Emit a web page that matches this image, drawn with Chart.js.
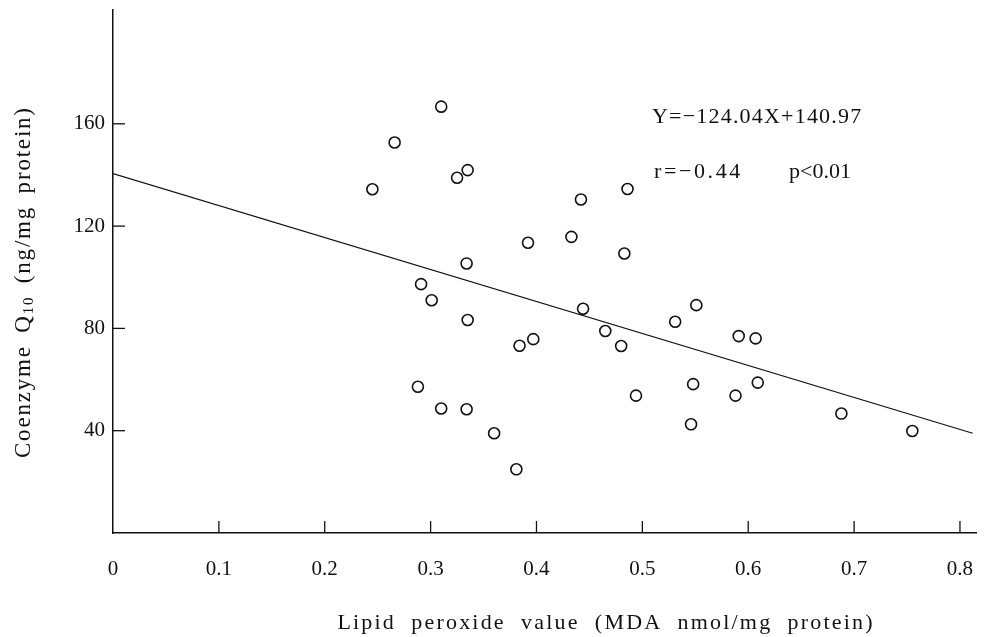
<!DOCTYPE html>
<html>
<head>
<meta charset="utf-8">
<script src="https://cdn.jsdelivr.net/npm/chart.js@4/dist/chart.umd.min.js"></script>
<style>
html,body{margin:0;padding:0;background:#fff;}
#wrap{width:984px;height:637px;position:relative;}
</style>
</head>
<body>
<div id="wrap"><canvas id="c" width="984" height="637"></canvas></div>
<script>
// ---- data ----
const lipidX = [0.310,0.266,0.335,0.325,0.245,0.392,0.334,0.291,0.301,0.335,0.384,0.397,0.288,0.310,0.334,0.360,0.381,
                0.486,0.442,0.433,0.483,0.444,0.465,0.480,0.531,0.551,0.591,0.607,0.494,0.548,0.546,0.588,0.609,0.688,0.755];
const coq10Y = [166.7,152.7,141.9,138.9,134.4,113.5,105.4,97.3,91.0,83.3,73.2,75.8,57.2,48.7,48.4,39.0,24.9,
                134.5,130.4,115.8,109.3,87.7,79.0,73.1,82.6,89.1,77.0,76.1,53.7,58.2,42.5,53.7,58.8,46.7,39.9];
const lineX = [0, 0.812];
const lineY = [140.5, 39.0];
const xTicks = [0,0.1,0.2,0.3,0.4,0.5,0.6,0.7,0.8];
const xTickLabels = ['0','0.1','0.2','0.3','0.4','0.5','0.6','0.7','0.8'];
const yTicks = [40,80,120,160];
const yTickLabels = ['40','80','120','160'];
const equationText = 'Y=\u2212124.04X+140.97';
const statText = ['r=\u22120.44', 'p<0.01'];
const xTitle = 'Lipid peroxide value (MDA nmol/mg protein)';
const yTitleParts = ['Coenzyme Q', '10', ' (ng/mg protein)'];

const SERIF = '"Liberation Serif", "DejaVu Serif", serif';

const scatterData = lipidX.map((x,i)=>({x:x,y:coq10Y[i]}));
const lineData = lineX.map((x,i)=>({x:x,y:lineY[i]}));

// draw a run of segments [{t, font, dy}] char by char with extra spacing
function runWidth(ctx, segs, ls, ws){
  let w = 0;
  segs.forEach(s=>{ ctx.font = s.font; for (const ch of s.t){ w += ctx.measureText(ch).width + ls + (ch===' '?ws:0); } });
  return w - ls;
}
function drawRun(ctx, segs, x, y, ls, ws){
  let cx = x;
  segs.forEach(s=>{ ctx.font = s.font; for (const ch of s.t){ ctx.fillText(ch, cx, y + (s.dy||0)); cx += ctx.measureText(ch).width + ls + (ch===' '?ws:0); } });
}

const decor = {
  id:'decor',
  afterDraw(chart){
    const ctx = chart.ctx;
    const xs = chart.scales.x, ys = chart.scales.y;
    const ca = chart.chartArea;
    ctx.save();
    ctx.strokeStyle = '#111';
    ctx.lineWidth = 1.3;
    xTicks.forEach(v=>{
      if (v===0) return;
      const px = xs.getPixelForValue(v);
      ctx.beginPath(); ctx.moveTo(px, ca.bottom); ctx.lineTo(px, ca.bottom-12); ctx.stroke();
    });
    yTicks.forEach(v=>{
      const py = ys.getPixelForValue(v);
      ctx.beginPath(); ctx.moveTo(ca.left, py); ctx.lineTo(ca.left+12, py); ctx.stroke();
    });
    ctx.fillStyle = '#111';
    ctx.textBaseline = 'middle';
    ctx.textAlign = 'left';
    const fa = '22px ' + SERIF;
    drawRun(ctx, [{t:equationText, font:fa}], 652, 117, 1.2, 0);
    drawRun(ctx, [{t:statText[0], font:fa}], 654, 172, 2.6, 0);
    drawRun(ctx, [{t:statText[1], font:fa}], 789, 172, 0, 0);
    // x title
    const fx = '22px ' + SERIF;
    const segX = [{t:xTitle, font:fx}];
    const wx = runWidth(ctx, segX, 2.2, 7.5);
    drawRun(ctx, segX, 605 - wx/2, 623, 2.2, 7.5);
    // y title with subscript
    ctx.translate(24, 283);
    ctx.rotate(-Math.PI/2);
    const f1 = '23px ' + SERIF, f2 = '15px ' + SERIF;
    const segY = [{t:yTitleParts[0], font:f1}, {t:yTitleParts[1], font:f2, dy:5}, {t:yTitleParts[2], font:f1}];
    const wy = runWidth(ctx, segY, 1.8, 5);
    drawRun(ctx, segY, -wy/2, 0, 1.8, 5);
    ctx.restore();
  }
};

const noPad = () => ({left:0, right:0, top:0, bottom:0});

new Chart(document.getElementById('c'), {
  type:'scatter',
  data:{datasets:[
    {type:'line', data:lineData, borderColor:'#111', borderWidth:1.2, pointRadius:0, fill:false, tension:0, order:2},
    {data:scatterData, pointRadius:5.5, pointHoverRadius:5.5, pointBorderWidth:1.6, pointBorderColor:'#111', pointBackgroundColor:'rgba(255,255,255,0)', showLine:false, order:1}
  ]},
  options:{
    responsive:false, animation:false,
    layout:{padding:{left:0,right:2,top:10,bottom:0}},
    plugins:{legend:{display:false}, tooltip:{enabled:false}},
    scales:{
      x:{type:'linear', min:0, max:0.816,
         afterBuildTicks(s){ s.ticks = xTicks.map(v=>({value:v})); },
         afterFit(s){ s.height = 637-533; s.paddingLeft = 0; s.paddingRight = 0; s.getPadding = noPad; },
         grid:{display:false, drawTicks:false},
         border:{display:true, color:'#111', width:1.5},
         ticks:{padding:24, color:'#111', font:{family:SERIF, size:21}, maxRotation:0, autoSkip:false,
                callback:(v,i)=>xTickLabels[i]}
      },
      y:{type:'linear', min:0, max:204.5,
         afterBuildTicks(s){ s.ticks = yTicks.map(v=>({value:v})); },
         afterFit(s){ s.width = 113; s.paddingTop = 0; s.paddingBottom = 0; s.getPadding = noPad; },
         grid:{display:false, drawTicks:false},
         border:{display:true, color:'#111', width:1.5},
         ticks:{padding:8, color:'#111', font:{family:SERIF, size:21}, autoSkip:false,
                callback:(v,i)=>yTickLabels[i]}
      }
    }
  },
  plugins:[decor]
});
</script>
</body>
</html>
